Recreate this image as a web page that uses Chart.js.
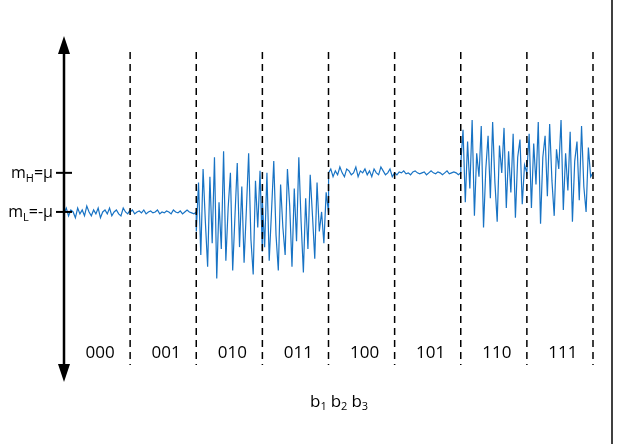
<!DOCTYPE html>
<html><head><meta charset="utf-8">
<script src="https://cdn.jsdelivr.net/npm/chart.js@4/dist/chart.umd.min.js"></script>
<style>html,body{margin:0;padding:0;background:#fff}#w{width:624px;height:444px;position:relative}</style>
</head><body><div id="w"><canvas id="c" width="624" height="444"></canvas></div>
<script>
const categories=["000","001","010","011","100","101","110","111"];
const levelLabels=[["m","H","=μ"],["m","L","=-μ"]];
const levelValues=[1,-1];
const s000=[-1.1,-0.8,-1.2,-0.9,-1.0,-1.3,-0.8,-1.1,-0.9,-1.2,-0.7,-1.0,-1.2,-0.9,-1.1,-0.8,-1.3,-1.0,-0.9,-1.1,-0.8,-1.2,-1.0,-0.9,-1.1,-1.2,-0.8,-1.0,-1.1,-0.9];
const s001=[-1.0,-0.9,-1.1,-1.0,-0.95,-1.05,-0.9,-1.1,-1.0,-0.95,-1.05,-1.0,-0.9,-1.1,-1.0,-1.05,-0.95,-1.0,-1.1,-0.9,-1.0,-1.05,-0.95,-1.1,-1.0,-0.9,-1.0,-1.05,-1.1,-1.0];
const s010=[-2.0,0.5,-3.2,1.2,-1.5,-3.8,0.8,-2.6,1.8,-4.4,-0.5,-2.9,2.1,-3.5,-0.8,1.0,-4.0,-1.2,1.5,-2.8,0.3,-3.6,-0.9,2.0,-2.4,-4.2,0.6,-1.8,1.1,-3.0];
const s011=[-0.5,-2.8,1.0,-3.5,-1.0,1.6,-2.2,-4.0,0.4,-1.8,-3.2,1.2,-0.7,-3.8,0.2,-2.5,1.8,-1.5,-4.1,-0.3,-2.9,0.9,-1.2,-3.4,0.5,-2.0,-1.0,-2.6,0.0,-1.0];
const s100=[1.0,1.2,0.8,1.1,0.9,1.3,1.0,0.8,1.2,1.1,0.9,1.0,1.3,0.8,1.1,1.0,1.2,0.9,1.1,0.8,1.2,1.0,0.9,1.3,1.1,0.9,1.0,1.2,0.8,1.0];
const s101=[1.0,0.9,1.05,1.0,1.1,0.95,1.0,0.9,1.05,1.1,1.0,0.95,1.0,1.05,0.9,1.0,1.1,1.0,0.95,1.05,1.0,0.9,1.0,1.1,0.95,1.0,1.05,1.0,0.9,1.0];
const s110=[1.5,3.2,-0.5,2.6,0.2,3.7,-1.2,2.0,0.8,3.4,-1.8,1.2,2.9,-0.3,3.6,0.5,-1.5,2.4,1.0,3.3,-0.8,2.1,0.0,3.0,-1.3,1.8,2.7,-0.6,1.4,1.0];
const s111=[1.0,3.0,-0.8,2.5,0.4,3.6,-1.6,1.8,2.9,-0.2,3.5,0.6,-1.2,2.2,1.2,3.7,-0.9,2.0,0.1,3.1,-1.5,1.6,2.6,-0.4,3.4,0.3,-1.0,2.3,0.8,1.0];
const segs=[s000,s001,s010,s011,s100,s101,s110,s111];
const pts=[];
segs.forEach((s,si)=>s.forEach((v,i)=>pts.push({x:si+i/(s.length-1)*0.999+(i===0&&si>0?0.001:0),y:v})));

const FONT='"Open Sans", sans-serif';
const deco={id:'deco',afterDraw(ch){
  const c=ch.ctx,xs=ch.scales.x,ys=ch.scales.y;
  c.save();
  c.strokeStyle='#000';c.lineWidth=1.5;c.setLineDash([7,5]);
  for(let i=1;i<=8;i++){const x=xs.getPixelForValue(i);c.beginPath();c.moveTo(x,52);c.lineTo(x,365);c.stroke();}
  c.setLineDash([]);
  const ax=xs.getPixelForValue(0);
  c.lineWidth=2.5;c.beginPath();c.moveTo(ax,48);c.lineTo(ax,370);c.stroke();
  c.fillStyle='#000';
  c.beginPath();c.moveTo(ax,36);c.lineTo(ax-6,54);c.lineTo(ax+6,54);c.fill();
  c.beginPath();c.moveTo(ax,382);c.lineTo(ax-6,364);c.lineTo(ax+6,364);c.fill();
  c.lineWidth=2;
  levelValues.forEach((v,k)=>{const y=ys.getPixelForValue(v);
    c.beginPath();c.moveTo(ax-8,y);c.lineTo(ax+8,y);c.stroke();
    const L=levelLabels[k];c.font='16px '+FONT;const w1=c.measureText(L[0]).width;const w3=c.measureText(L[2]).width;
    c.font='11px '+FONT;const w2=c.measureText(L[1]).width;
    let x=53-(w1+w2+w3);c.textBaseline='alphabetic';c.textAlign='left';
    c.font='16px '+FONT;c.fillText(L[0],x,y+5);x+=w1;
    c.font='11px '+FONT;c.fillText(L[1],x,y+9);x+=w2;
    c.font='16px '+FONT;c.fillText(L[2],x,y+5);
  });
  c.font='17px '+FONT;c.textAlign='center';c.textBaseline='middle';
  categories.forEach((t,i)=>c.fillText(t,xs.getPixelForValue(i+0.5)+3,353));
  const parts=[['b','1'],['b','2'],['b','3']];let x=310;
  parts.forEach(p=>{c.textAlign='left';c.font='17px '+FONT;c.fillText(p[0],x,402);x+=c.measureText(p[0]).width;
    c.font='11px '+FONT;c.fillText(p[1],x,407);x+=c.measureText(p[1]).width+4;});
  c.lineWidth=1.5;c.beginPath();c.moveTo(612,0);c.lineTo(612,444);c.stroke();
  c.restore();
}};
new Chart(document.getElementById('c'),{type:'line',
 data:{datasets:[{data:pts,borderColor:'#1873c4',borderWidth:1.2,pointRadius:0,tension:0}]},
 options:{responsive:false,animation:false,events:[],
  layout:{padding:{left:64,right:31,top:38,bottom:64}},
  plugins:{legend:{display:false},tooltip:{enabled:false}},
  scales:{x:{type:'linear',min:0,max:8,display:false},y:{min:-9.6,max:7.9,display:false}}},
 plugins:[deco]});
</script></body></html>
